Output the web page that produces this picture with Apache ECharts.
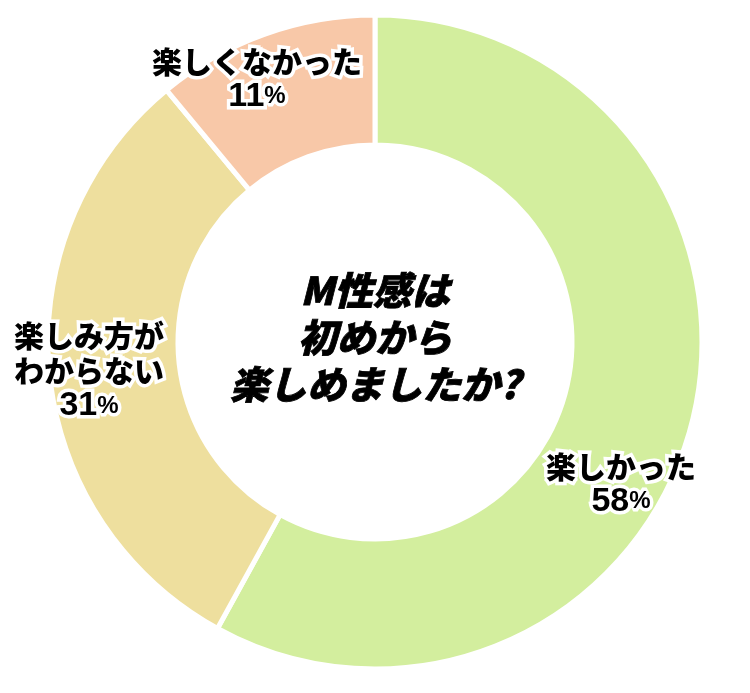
<!DOCTYPE html>
<html>
<head>
<meta charset="utf-8">
<script src="https://cdn.jsdelivr.net/npm/echarts@6/dist/echarts.min.js"></script>
<style>
html,body{margin:0;padding:0;background:#fff;}
#c{width:750px;height:693px;}
</style>
</head>
<body>
<div id="c"></div>
<script>
var categories = ['楽しかった', '楽しみ方が\nわからない', '楽しくなかった'];
var values = [58, 31, 11];
var colors = ['#d3ee9e', '#eedf9e', '#f8c8a8'];
var centerTitle = 'M性感は\n初めから\n楽しめましたか?';
var labelPos = [[621, 484], [89, 371], [257, 79]];

var chart = echarts.init(document.getElementById('c'));
var font = '"Noto Sans CJK JP", "Noto Sans", sans-serif';
var numFont = '"Liberation Sans", Arial, sans-serif';
chart.setOption({
  animation: false,
  graphic: [{
    type: 'text',
    x: 375, y: 337,
    style: {
      text: centerTitle,
      fontFamily: font,
      fontSize: 38.5,
      fontWeight: 900,
      fontStyle: 'italic',
      lineHeight: 47,
      fill: '#000',
      stroke: '#000',
      lineWidth: 0.8,
      align: 'center',
      verticalAlign: 'middle'
    }
  }],
  series: [{
    type: 'pie',
    center: [375, 342],
    radius: [197, 327],
    startAngle: 90,
    clockwise: true,
    itemStyle: { borderColor: '#fff', borderWidth: 5 },
    label: {
      show: true,
      position: 'inside',
      formatter: function (p) {
        var lines = p.name.split('\n').map(function (s) { return '{n|' + s + '}'; });
        return lines.join('\n') + '\n{v|' + p.value + '}{p|%}';
      },
      textBorderColor: '#fff',
      textBorderWidth: 7,
      color: '#000',
      rich: {
        n: { fontFamily: font, fontSize: 30, fontWeight: 900, lineHeight: 35, color: '#000', textBorderColor: '#fff', textBorderWidth: 7 },
        v: { fontFamily: numFont, fontSize: 34, fontWeight: 'bold', lineHeight: 35, color: '#000', textBorderColor: '#fff', textBorderWidth: 7 },
        p: { fontFamily: numFont, fontSize: 24, fontWeight: 'bold', lineHeight: 35, color: '#000', textBorderColor: '#fff', textBorderWidth: 7 }
      }
    },
    labelLayout: function (params) {
      var pos = labelPos[params.dataIndex];
      return { x: pos[0], y: pos[1], align: 'center', verticalAlign: 'middle' };
    },
    labelLine: { show: false },
    data: categories.map(function (c, i) {
      return { name: c, value: values[i], itemStyle: { color: colors[i] } };
    })
  }]
});
</script>
</body>
</html>
